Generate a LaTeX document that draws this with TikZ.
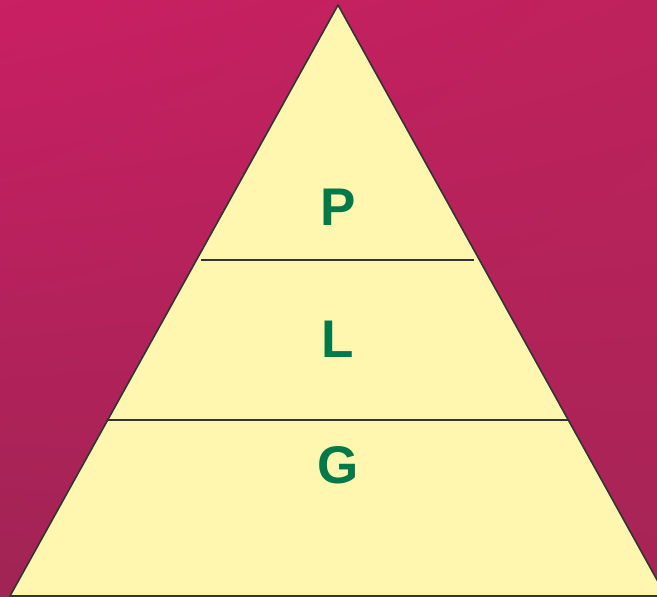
\documentclass[tikz,border=0pt]{standalone}
\usepackage{xcolor}
\usepackage{fontspec}
\setsansfont{Liberation Sans}
\usepackage{tikz}
\usetikzlibrary{positioning, shadings}

\definecolor{bgtl}{RGB}{201,31,99}
\definecolor{bgtr}{RGB}{190,34,92}
\definecolor{bgbl}{RGB}{160,36,84}
\definecolor{bgbr}{RGB}{166,36,86}
\definecolor{pyr}{RGB}{255,247,176}
\definecolor{edge}{RGB}{51,51,51}
\definecolor{lvl}{RGB}{0,121,74}

\begin{document}
\begin{tikzpicture}[x=1pt, y=-1pt,
        side/.style={draw=edge, line width=1.6pt, line join=round},
        divider/.style={draw=edge, line width=1.6pt},
        layer/.style={text=lvl, font=\sffamily\bfseries\fontsize{53}{60}\selectfont, inner sep=0pt}]
        \useasboundingbox (0,0) rectangle (657,597);
        \clip (0,0) rectangle (657,597);
        \shade[upper left=bgtl, upper right=bgtr, lower left=bgbl, lower right=bgbr] (0,0) rectangle (657,597);
        
        \coordinate (apex) at (338,5);
        \coordinate (bl) at (10,596);
        \coordinate (br) at (666,596);
        \coordinate (d1l) at (201,260);
        \coordinate (d1r) at (474,260);
        \coordinate (d2l) at (107,420);
        \coordinate (d2r) at (568,420);
        
        \path[side, fill=pyr] (apex) -- (br) -- (bl) -- cycle;
        \path[divider] (d1l) -- (d1r);
        \path[divider] (d2l) -- (d2r);
        
        \node[layer] (p) at (338,207) {P};
        \node[layer] (l) at (338,339) {L};
        \node[layer] (g) at (338,465) {G};
    \end{tikzpicture}
\end{document}
